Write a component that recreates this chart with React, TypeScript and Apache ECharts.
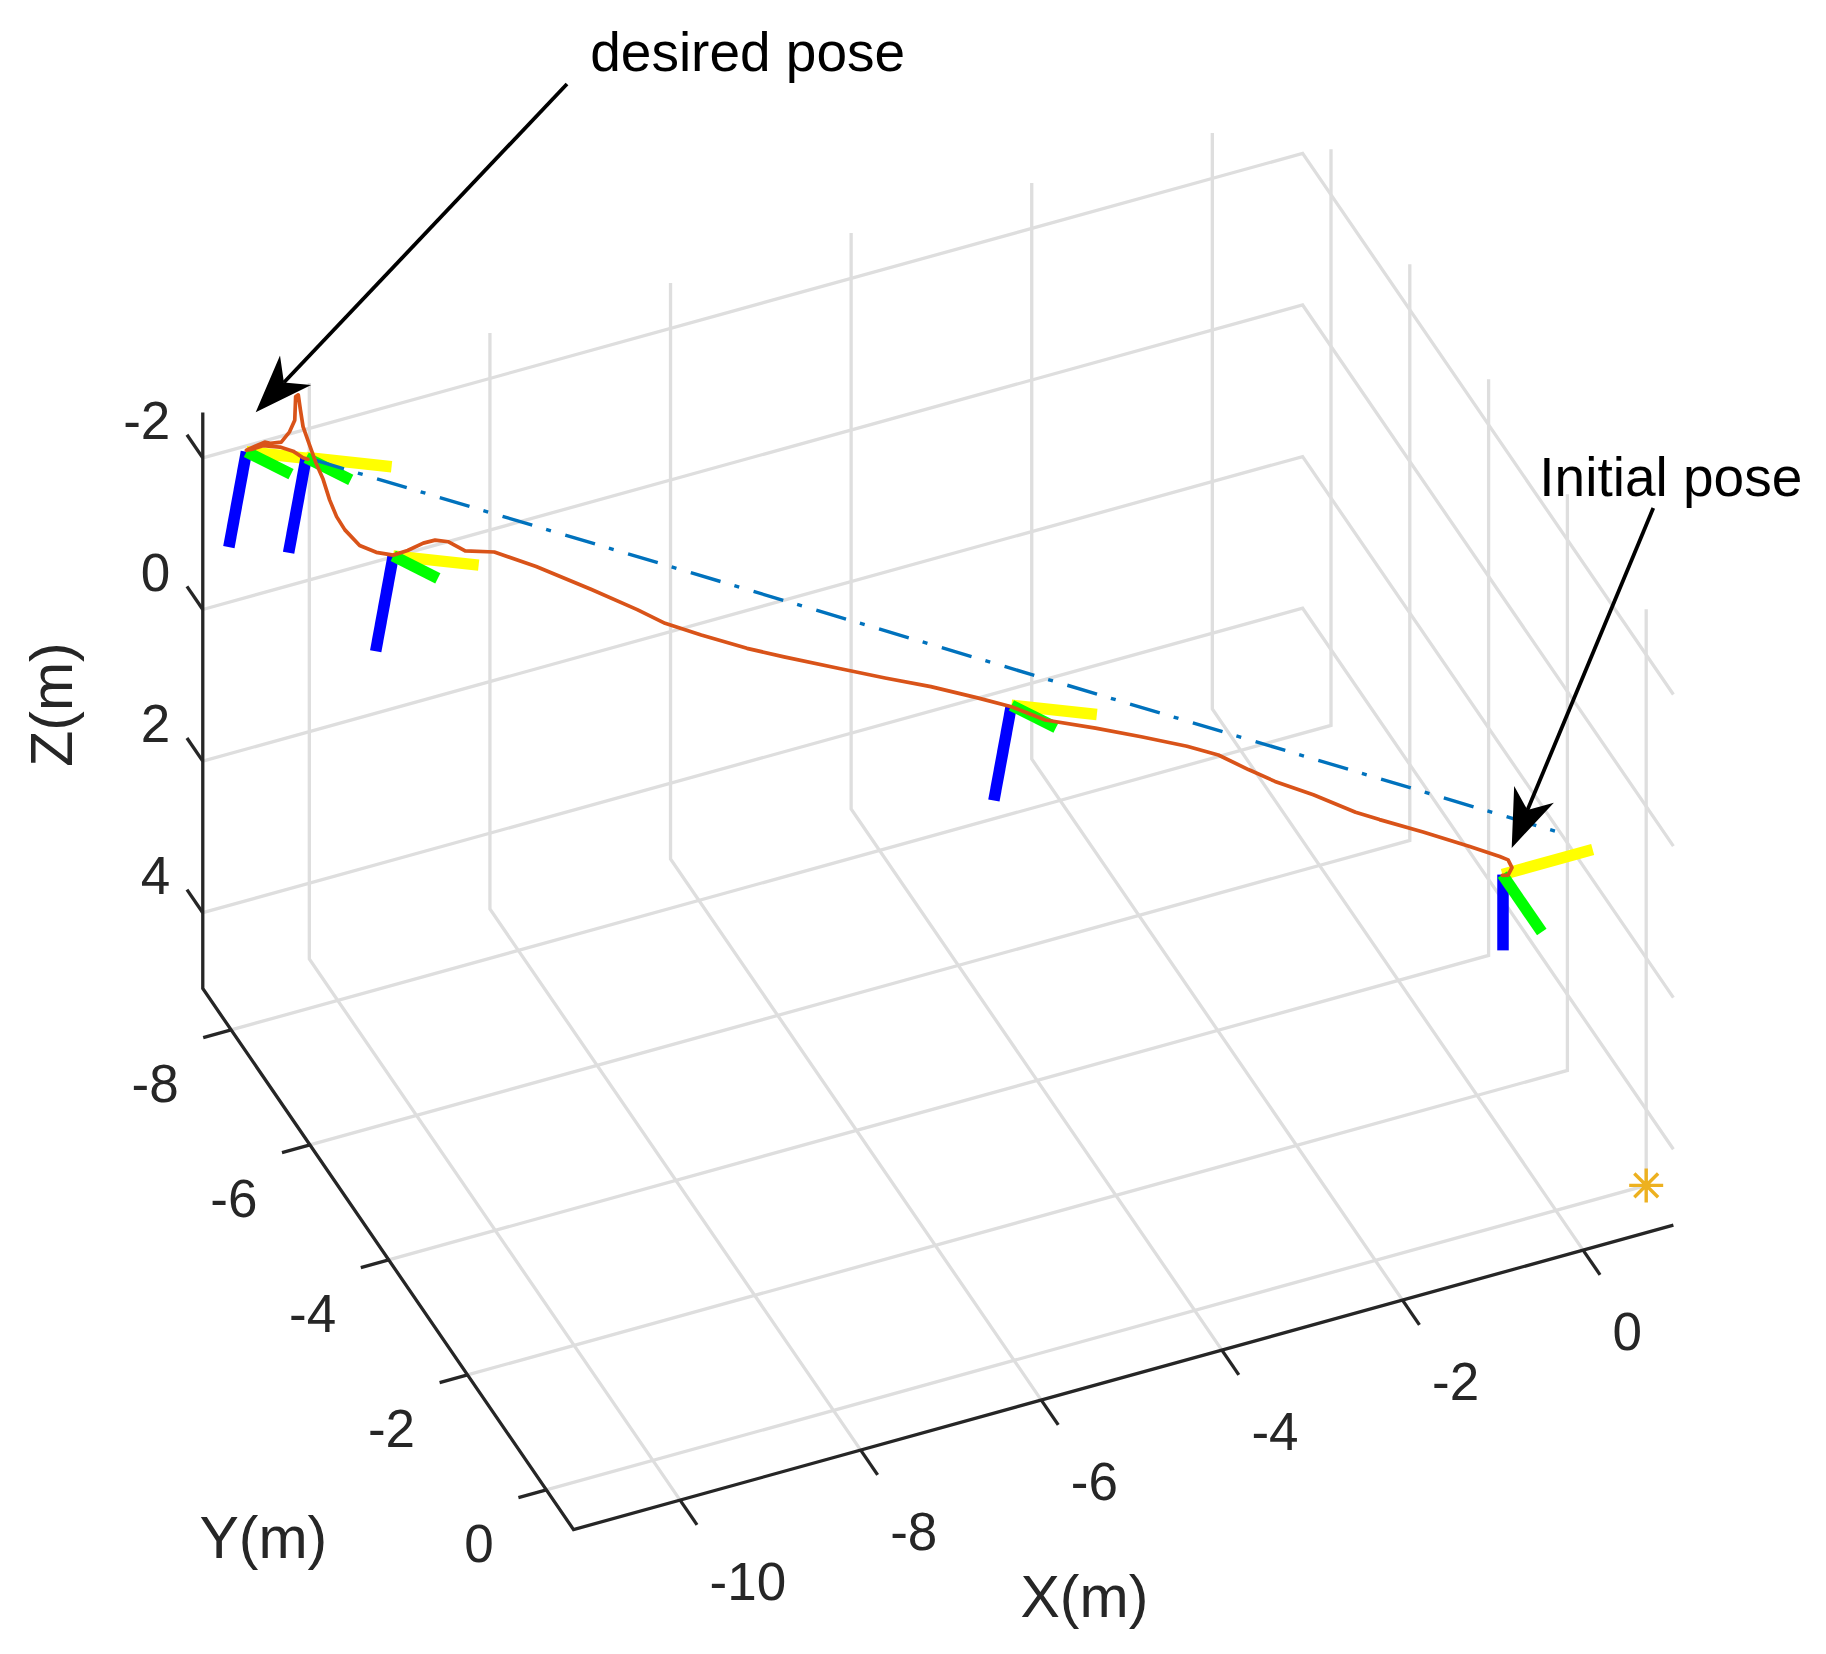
import React, { useEffect, useRef } from "react";
import * as echarts from "echarts";

const W = 1826;
const H = 1654;

// ---- axis limits and ticks (metres) ----
const X_LIM = [-11.18, 1.0];
const Y_LIM = [-8.72, 0.69];
const Z_LIM = [-2.6, 5];
const X_TICKS = [-10, -8, -6, -4, -2, 0];
const Y_TICKS = [-8, -6, -4, -2, 0];
const Z_TICKS = [-2, 0, 2, 4];

// ---- flown trajectory (initial pose -> desired pose) ----
const TRAJ_X = [-0.44, -0.39, -0.36, -0.39, -0.46, -0.71, -1.10, -1.46, -1.66, -2.01, -2.33, -2.55, -2.80, -3.06, -3.44, -3.82, -4.24, -4.52, -4.81, -5.19, -5.57, -5.95, -6.41, -6.72, -7.10, -7.40, -7.63, -8.01, -8.47, -8.82, -9.06, -9.20, -9.31, -9.41, -9.54, -9.66, -9.80, -9.94, -10.06, -10.13, -10.19, -10.24, -10.30, -10.35, -10.41, -10.43, -10.45, -10.47, -10.48, -10.52, -10.59, -10.68, -10.73, -10.79, -10.88, -10.84, -10.74, -10.60, -10.49, -10.41, -10.37];
const TRAJ_Y = [-0.35, -0.32, -0.29, -0.32, -0.37, -0.56, -0.85, -1.13, -1.28, -1.55, -1.79, -1.96, -2.15, -2.35, -2.64, -2.93, -3.24, -3.46, -3.68, -3.97, -4.26, -4.55, -4.90, -5.13, -5.42, -5.65, -5.83, -6.12, -6.47, -6.73, -6.92, -7.02, -7.11, -7.18, -7.28, -7.37, -7.48, -7.58, -7.68, -7.73, -7.77, -7.82, -7.86, -7.90, -7.94, -7.96, -7.97, -7.99, -7.99, -8.03, -8.08, -8.15, -8.18, -8.24, -8.30, -8.27, -8.20, -8.09, -8.01, -7.94, -7.91];
const TRAJ_Z = [0.70, 0.69, 0.58, 0.49, 0.46, 0.39, 0.29, 0.22, 0.17, 0.03, -0.07, -0.17, -0.30, -0.35, -0.38, -0.40, -0.41, -0.51, -0.56, -0.61, -0.63, -0.66, -0.70, -0.74, -0.82, -0.90, -1.02, -1.19, -1.38, -1.49, -1.44, -1.53, -1.52, -1.46, -1.33, -1.24, -1.24, -1.30, -1.47, -1.63, -1.84, -2.09, -2.29, -2.50, -2.75, -2.96, -3.16, -3.13, -2.82, -2.65, -2.50, -2.46, -2.47, -2.40, -2.32, -2.34, -2.41, -2.43, -2.40, -2.34, -2.33];

// ---- body frames drawn along the path ----
const FRAME_X = [-10.88, -10.38, -9.66, -4.52, -0.44];
const FRAME_Y = [-8.30, -7.93, -7.37, -3.46, -0.35];
const FRAME_Z = [-2.30, -2.34, -1.23, -0.53, 0.69];
const FRAME_TILTED = [true, true, true, true, false];
// body axes (x, y, z) expressed in world coordinates
const BODY_TILTED = [
  [0.92, 0.06, 0.38],
  [0.093, 0.919, -0.371],
  [-0.36, 0.38, 0.85],
];
const BODY_LEVEL = [
  [1, 0, 0],
  [0, 1, 0],
  [0, 0, 1],
];
const FRAME_AXIS_LEN = 1;
const FRAME_COLORS = ["#FFFF00", "#00FF00", "#0000FF"]; // x, y, z

// ---- straight reference line and marker ----
const REF_START = [-10.38, -7.93, -2.34];
const REF_END = [0, 0, 0];
const STAR_POINT = [1, 0, 5];

// ---- orthographic view of the 3-D axes (pixels per metre) ----
const VIEW_ORIGIN = [1555.9, 831.4];
const VIEW_EX = [90.3, -25.0];
const VIEW_EY = [39.4, 57.5];
const VIEW_EZ = [0, 75.8];

const FONT = "'Liberation Sans', Arial, Helvetica, sans-serif";
const AX = "#262626";

function proj(p: number[]): number[] {
  return [
    VIEW_ORIGIN[0] + p[0] * VIEW_EX[0] + p[1] * VIEW_EY[0] + p[2] * VIEW_EZ[0],
    VIEW_ORIGIN[1] + p[0] * VIEW_EX[1] + p[1] * VIEW_EY[1] + p[2] * VIEW_EZ[1],
  ];
}

function norm(v: number[]): number[] {
  const l = Math.hypot(v[0], v[1]);
  return [v[0] / l, v[1] / l];
}

function textSeries(items: { p: number[]; t: string }[], align: string, fontSize: number) {
  return {
    type: "scatter",
    silent: true,
    symbol: "circle",
    symbolSize: 1,
    itemStyle: { color: "rgba(0,0,0,0)", opacity: 1 },
    z: 8,
    data: items.map((it) => ({ value: it.p, name: it.t })),
    label: {
      show: true,
      position: [0, 0],
      formatter: "{b}",
      align,
      verticalAlign: "middle",
      fontSize,
      fontFamily: FONT,
      color: AX,
      opacity: 1,
    },
  };
}

function arrow(tail: number[], tip: number[]) {
  const headLen = 58;
  const halfW = 21.5;
  const notch = 41;
  const d = norm([tail[0] - tip[0], tail[1] - tip[1]]);
  const pp = [-d[1], d[0]];
  const base = [tip[0] + d[0] * headLen, tip[1] + d[1] * headLen];
  const c1 = [base[0] + pp[0] * halfW, base[1] + pp[1] * halfW];
  const c2 = [base[0] - pp[0] * halfW, base[1] - pp[1] * halfW];
  const n = [tip[0] + d[0] * notch, tip[1] + d[1] * notch];
  return [
    {
      type: "line",
      z: 100,
      shape: { x1: tail[0], y1: tail[1], x2: n[0], y2: n[1] },
      style: { stroke: "#000", lineWidth: 3.8 },
    },
    {
      type: "polygon",
      z: 100,
      shape: { points: [tip, c1, n, c2] },
      style: { fill: "#000" },
    },
  ];
}

function buildOption() {
  const [x0, x1] = X_LIM;
  const [y0, y1] = Y_LIM;
  const [z0, z1] = Z_LIM;

  // grid lines on the back wall, right wall and floor
  const gridData: any[] = [];
  X_TICKS.forEach((x) =>
    gridData.push({ coords: [proj([x, y0, z0]), proj([x, y0, z1]), proj([x, y1, z1])] })
  );
  Y_TICKS.forEach((y) =>
    gridData.push({ coords: [proj([x1, y, z0]), proj([x1, y, z1]), proj([x0, y, z1])] })
  );
  Z_TICKS.forEach((z) =>
    gridData.push({ coords: [proj([x0, y0, z]), proj([x1, y0, z]), proj([x1, y1, z])] })
  );

  // axis lines
  const axisData = [
    { coords: [proj([x0, y0, z0]), proj([x0, y0, z1]), proj([x0, y1, z1]), proj([x1, y1, z1])] },
  ];

  // tick marks and tick labels
  const eyN = norm(VIEW_EY);
  const exN = norm(VIEW_EX);
  const tickData: any[] = [];
  const zLab: any[] = [];
  const yLab: any[] = [];
  const xLab: any[] = [];
  Z_TICKS.forEach((z) => {
    const p = proj([x0, y0, z]);
    tickData.push({ coords: [p, [p[0] - eyN[0] * 28, p[1] - eyN[1] * 28]] });
    zLab.push({ p: [p[0] - 32, p[1] - 37], t: String(z) });
  });
  Y_TICKS.forEach((y) => {
    const p = proj([x0, y, z1]);
    tickData.push({ coords: [p, [p[0] - exN[0] * 29, p[1] - exN[1] * 29]] });
    yLab.push({ p: [p[0] - 52, p[1] + 54], t: String(y) });
  });
  X_TICKS.forEach((x) => {
    const p = proj([x, y1, z1]);
    tickData.push({ coords: [p, [p[0] + eyN[0] * 30, p[1] + eyN[1] * 30]] });
    xLab.push({ p: [p[0] + 30, p[1] + 81.5], t: String(x) });
  });

  // body frames: draw z (blue), x (yellow), y (green)
  const frameData: any[] = [];
  FRAME_X.forEach((fx, i) => {
    const o = [fx, FRAME_Y[i], FRAME_Z[i]];
    const R = FRAME_TILTED[i] ? BODY_TILTED : BODY_LEVEL;
    [2, 0, 1].forEach((k) => {
      const tip = [
        o[0] + R[k][0] * FRAME_AXIS_LEN,
        o[1] + R[k][1] * FRAME_AXIS_LEN,
        o[2] + R[k][2] * FRAME_AXIS_LEN,
      ];
      frameData.push({
        coords: [proj(o), proj(tip)],
        lineStyle: { color: FRAME_COLORS[k], width: 11.5, opacity: 1, cap: "butt" },
      });
    });
  });

  const traj = TRAJ_X.map((x, i) => proj([x, TRAJ_Y[i], TRAJ_Z[i]]));

  const starPath =
    "path://M45 0L55 0L55 100L45 100Z M0 45L100 45L100 55L0 55Z M18.5 11.5L88.5 81.5L81.5 88.5L11.5 18.5Z M88.5 18.5L18.5 88.5L11.5 81.5L81.5 11.5Z";

  return {
    animation: false,
    backgroundColor: "#ffffff",
    grid: { left: 0, right: 0, top: 0, bottom: 0, containLabel: false },
    xAxis: { type: "value", min: 0, max: W, show: false },
    yAxis: { type: "value", min: 0, max: H, inverse: true, show: false },
    series: [
      {
        type: "lines",
        coordinateSystem: "cartesian2d",
        polyline: true,
        silent: true,
        z: 1,
        lineStyle: { color: "#dedede", width: 3.3, opacity: 1, curveness: 0 },
        data: gridData,
      },
      {
        type: "lines",
        coordinateSystem: "cartesian2d",
        polyline: true,
        silent: true,
        z: 2,
        lineStyle: { color: AX, width: 3.3, opacity: 1, curveness: 0 },
        data: axisData,
      },
      {
        type: "lines",
        coordinateSystem: "cartesian2d",
        polyline: false,
        silent: true,
        z: 2,
        lineStyle: { color: AX, width: 3.3, opacity: 1, curveness: 0 },
        data: tickData,
      },
      {
        type: "lines",
        coordinateSystem: "cartesian2d",
        polyline: false,
        silent: true,
        z: 3,
        lineStyle: { width: 11.5, opacity: 1, curveness: 0 },
        data: frameData,
      },
      {
        type: "line",
        silent: true,
        z: 4,
        symbol: "none",
        showSymbol: false,
        data: [proj(REF_START), proj(REF_END)],
        lineStyle: { color: "#0072BD", width: 3.4, type: [31, 14.5, 5, 15], dashOffset: 56.5, cap: "butt" },
      },
      {
        type: "line",
        silent: true,
        z: 5,
        symbol: "none",
        showSymbol: false,
        data: traj,
        lineStyle: { color: "#D95319", width: 3.7, join: "round", cap: "round" },
      },
      {
        type: "scatter",
        silent: true,
        z: 6,
        symbol: starPath,
        symbolSize: 34,
        itemStyle: { color: "#EDB120", opacity: 1 },
        data: [proj(STAR_POINT)],
      },
      textSeries(zLab, "right", 53),
      textSeries(yLab, "right", 53),
      textSeries(xLab, "left", 53),
    ],
    graphic: [
      ...arrow([567, 84], [255.7, 412.3]),
      ...arrow([1653.3, 508], [1511.7, 847.9]),
      {
        type: "text",
        z: 100,
        x: 590.2,
        y: 51.5,
        style: { text: "desired pose", fontSize: 55, fontFamily: FONT, fill: "#000", align: "left", verticalAlign: "middle" },
      },
      {
        type: "text",
        z: 100,
        x: 1539.3,
        y: 476.5,
        style: { text: "Initial pose", fontSize: 55, fontFamily: FONT, fill: "#000", align: "left", verticalAlign: "middle" },
      },
      {
        type: "text",
        z: 100,
        x: 1084.4,
        y: 1596.7,
        style: { text: "X(m)", fontSize: 59, fontFamily: FONT, fill: AX, align: "center", verticalAlign: "middle" },
      },
      {
        type: "text",
        z: 100,
        x: 263.3,
        y: 1538,
        style: { text: "Y(m)", fontSize: 59, fontFamily: FONT, fill: AX, align: "center", verticalAlign: "middle" },
      },
      {
        type: "text",
        z: 100,
        x: 52.4,
        y: 704.5,
        rotation: Math.PI / 2,
        style: { text: "Z(m)", fontSize: 59, fontFamily: FONT, fill: AX, align: "center", verticalAlign: "middle" },
      },
    ],
  };
}

export default function App() {
  const ref = useRef<HTMLDivElement>(null);
  useEffect(() => {
    document.body.style.margin = "0";
    const chart = echarts.init(ref.current as HTMLDivElement, null, { renderer: "svg" });
    chart.setOption(buildOption() as any);
    return () => chart.dispose();
  }, []);
  return <div ref={ref} style={{ width: W, height: H, background: "#ffffff" }} />;
}
